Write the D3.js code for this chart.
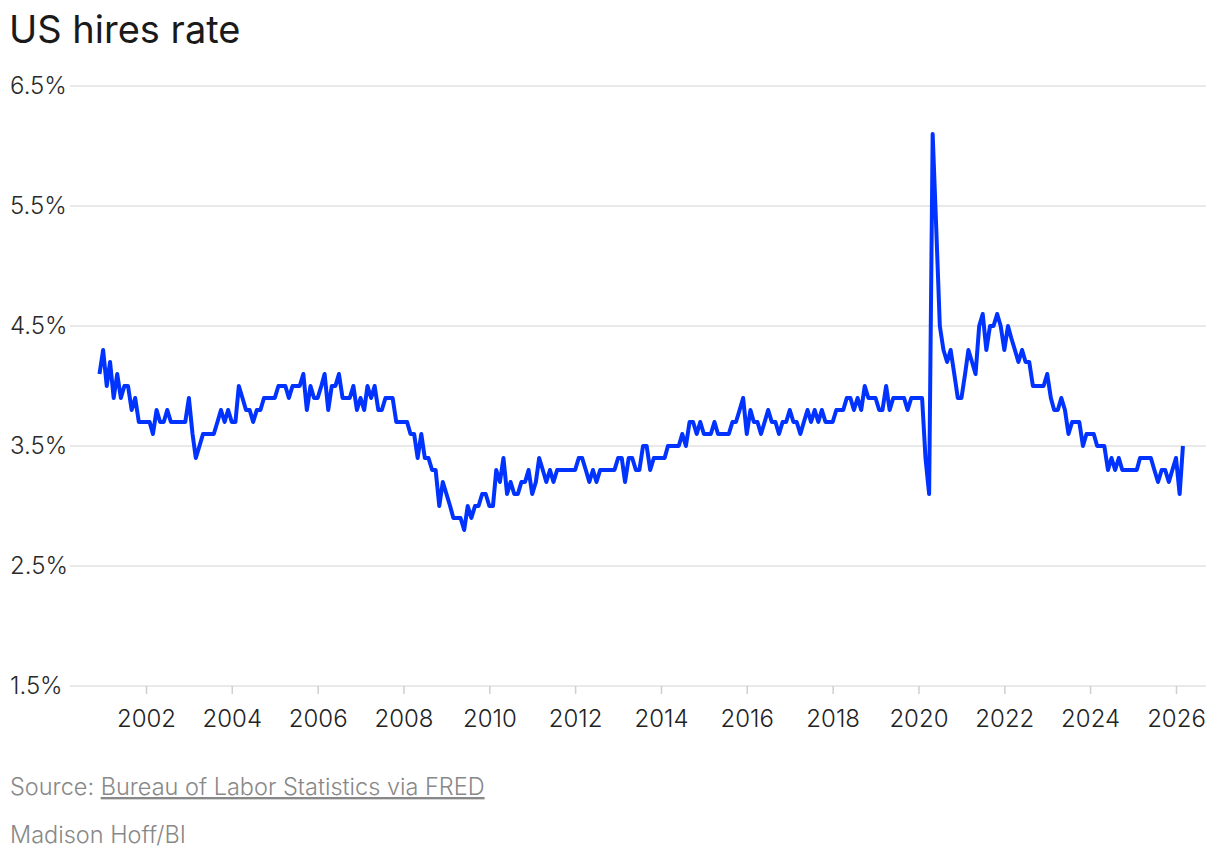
<!DOCTYPE html>
<html>
<head>
<meta charset="utf-8">
<script src="https://cdn.jsdelivr.net/npm/d3@7"></script>
<style>
  body { margin: 0; background: #fff; font-family: Inter, "Noto Sans", sans-serif; }
  svg text { font-family: Inter, "Noto Sans", sans-serif; }
</style>
</head>
<body>
<div id="container"></div>
<script>
// Monthly US hires rate (%), JOLTS, starting Dec 2000
var firstMonth = "2000-12";
var hiresRate = [
  4.1,
  4.3, 4.0, 4.2, 3.9, 4.1, 3.9, 4.0, 4.0, 3.8, 3.9, 3.7, 3.7,   // 2001
  3.7, 3.7, 3.6, 3.8, 3.7, 3.7, 3.8, 3.7, 3.7, 3.7, 3.7, 3.7,   // 2002
  3.9, 3.6, 3.4, 3.5, 3.6, 3.6, 3.6, 3.6, 3.7, 3.8, 3.7, 3.8,   // 2003
  3.7, 3.7, 4.0, 3.9, 3.8, 3.8, 3.7, 3.8, 3.8, 3.9, 3.9, 3.9,   // 2004
  3.9, 4.0, 4.0, 4.0, 3.9, 4.0, 4.0, 4.0, 4.1, 3.8, 4.0, 3.9,   // 2005
  3.9, 4.0, 4.1, 3.8, 4.0, 4.0, 4.1, 3.9, 3.9, 3.9, 4.0, 3.8,   // 2006
  3.9, 3.8, 4.0, 3.9, 4.0, 3.8, 3.8, 3.9, 3.9, 3.9, 3.7, 3.7,   // 2007
  3.7, 3.7, 3.6, 3.6, 3.4, 3.6, 3.4, 3.4, 3.3, 3.3, 3.0, 3.2,   // 2008
  3.1, 3.0, 2.9, 2.9, 2.9, 2.8, 3.0, 2.9, 3.0, 3.0, 3.1, 3.1,   // 2009
  3.0, 3.0, 3.3, 3.2, 3.4, 3.1, 3.2, 3.1, 3.1, 3.2, 3.2, 3.3,   // 2010
  3.1, 3.2, 3.4, 3.3, 3.2, 3.3, 3.2, 3.3, 3.3, 3.3, 3.3, 3.3,   // 2011
  3.3, 3.4, 3.4, 3.3, 3.2, 3.3, 3.2, 3.3, 3.3, 3.3, 3.3, 3.3,   // 2012
  3.4, 3.4, 3.2, 3.4, 3.4, 3.3, 3.3, 3.5, 3.5, 3.3, 3.4, 3.4,   // 2013
  3.4, 3.4, 3.5, 3.5, 3.5, 3.5, 3.6, 3.5, 3.7, 3.7, 3.6, 3.7,   // 2014
  3.6, 3.6, 3.6, 3.7, 3.6, 3.6, 3.6, 3.6, 3.7, 3.7, 3.8, 3.9,   // 2015
  3.6, 3.8, 3.7, 3.7, 3.6, 3.7, 3.8, 3.7, 3.7, 3.6, 3.7, 3.7,   // 2016
  3.8, 3.7, 3.7, 3.6, 3.7, 3.8, 3.7, 3.8, 3.7, 3.8, 3.7, 3.7,   // 2017
  3.7, 3.8, 3.8, 3.8, 3.9, 3.9, 3.8, 3.9, 3.8, 4.0, 3.9, 3.9,   // 2018
  3.9, 3.8, 3.8, 4.0, 3.8, 3.9, 3.9, 3.9, 3.9, 3.8, 3.9, 3.9,   // 2019
  3.9, 3.9, 3.4, 3.1, 6.1, 5.3, 4.5, 4.3, 4.2, 4.3, 4.1, 3.9,   // 2020
  3.9, 4.1, 4.3, 4.2, 4.1, 4.5, 4.6, 4.3, 4.5, 4.5, 4.6, 4.5,   // 2021
  4.3, 4.5, 4.4, 4.3, 4.2, 4.3, 4.2, 4.2, 4.0, 4.0, 4.0, 4.0,   // 2022
  4.1, 3.9, 3.8, 3.8, 3.9, 3.8, 3.6, 3.7, 3.7, 3.7, 3.5, 3.6,   // 2023
  3.6, 3.6, 3.5, 3.5, 3.5, 3.3, 3.4, 3.3, 3.4, 3.3, 3.3, 3.3,   // 2024
  3.3, 3.3, 3.4, 3.4, 3.4, 3.4, 3.3, 3.2, 3.3, 3.3, 3.2, 3.3,   // 2025
  3.4, 3.1, 3.5                                                 // 2026
];
var yTicks = [1.5, 2.5, 3.5, 4.5, 5.5, 6.5];
var xTickYears = [2002, 2004, 2006, 2008, 2010, 2012, 2014, 2016, 2018, 2020, 2022, 2024, 2026];

var titleText = "US hires rate";
var sourceLabel = "Source: ";
var sourceLink = "Bureau of Labor Statistics via FRED";
var creditText = "Madison Hoff/BI";

var width = 1220, height = 860;

var parseMonth = d3.timeParse("%Y-%m");
var start = parseMonth(firstMonth);
var data = hiresRate.map(function(v, i) {
    return { date: d3.timeMonth.offset(start, i), value: v };
});

var svg = d3.select("#container").append("svg")
    .attr("width", width)
    .attr("height", height);

// scales (time scale extrapolates past the tick span on both ends)
var x = d3.scaleTime()
    .domain([new Date(2002, 0, 1), new Date(2026, 0, 1)])
    .range([146, 1176]);

var y = d3.scaleLinear()
    .domain([1.5, 6.5])
    .range([686, 86]);

// title
svg.append("text")
    .attr("x", 9)
    .attr("y", 43)
    .style("font-size", "38px")
    .style("fill", "#1a1a1a")
    .text(titleText);

// gridlines + y labels
var grid = svg.append("g");
grid.selectAll("line")
    .data(yTicks)
    .enter().append("line")
    .attr("x1", 70)
    .attr("x2", 1206)
    .attr("y1", function(d) { return y(d); })
    .attr("y2", function(d) { return y(d); })
    .style("stroke", "#e2e2e2")
    .style("stroke-width", 1.5);

grid.selectAll("text")
    .data(yTicks)
    .enter().append("text")
    .attr("x", 10)
    .attr("y", function(d) { return y(d); })
    .attr("dy", "0.35em")
    .style("font-size", "24px")
    .style("font-weight", 300)
    .style("fill", "#2a2a2a")
    .text(function(d) { return d3.format(".1f")(d) + "%"; });

// x axis
var xAxis = d3.axisBottom(x)
    .tickValues(xTickYears.map(function(yr) { return new Date(yr, 0, 1); }))
    .tickFormat(d3.timeFormat("%Y"))
    .tickSize(8)
    .tickPadding(16);

var gx = svg.append("g")
    .attr("transform", "translate(0,686)")
    .call(xAxis);
gx.select(".domain").remove();
gx.selectAll(".tick line").style("stroke", "#cfcfcf").style("stroke-width", 1.5);
gx.selectAll(".tick text")
    .style("font-size", "24px")
    .style("font-weight", 300)
    .style("fill", "#222")
    .style("font-family", "Inter, 'Noto Sans', sans-serif");

// line
var line = d3.line()
    .x(function(d) { return x(d.date); })
    .y(function(d) { return y(d.value); });

svg.append("path")
    .datum(data)
    .attr("d", line)
    .style("fill", "none")
    .style("stroke", "#0033ff")
    .style("stroke-width", 4)
    .style("stroke-linejoin", "round");

// footer
var src = svg.append("text")
    .attr("x", 10)
    .attr("y", 795)
    .style("font-size", "23.5px")
    .style("font-weight", 300)
    .style("fill", "#888");
src.append("tspan").text(sourceLabel);
src.append("tspan")
    .style("text-decoration", "underline")
    .text(sourceLink);

svg.append("text")
    .attr("x", 10)
    .attr("y", 843)
    .style("font-size", "23.5px")
    .style("font-weight", 300)
    .style("fill", "#888")
    .text(creditText);
</script>
</body>
</html>
